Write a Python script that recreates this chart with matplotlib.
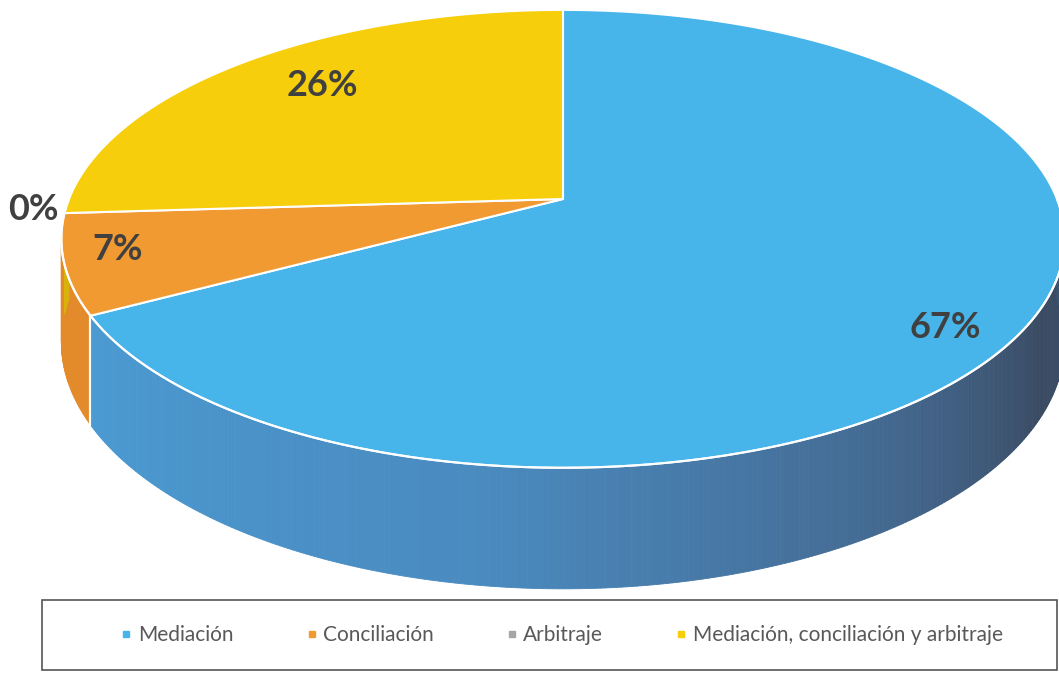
import numpy as np
import matplotlib
matplotlib.use("Agg")
import matplotlib.pyplot as plt
from matplotlib.patches import Polygon, Rectangle
from matplotlib.lines import Line2D

# data
labels = ["Mediación", "Conciliación", "Arbitraje", "Mediación, conciliación y arbitraje"]
values = [67, 7, 0, 26]
top_colors = ["#47b4ea", "#f29a32", "#a5a5a5", "#f6ce0b"]
side_colors = ["#4a9fd6", "#e38a2a", "#8f8f8f", "#d9b20a"]

W, H = 1059, 673
fig = plt.figure(figsize=(W / 100, H / 100), dpi=100)
ax = fig.add_axes([0, 0, 1, 1])
ax.set_xlim(0, W)
ax.set_ylim(H, 0)
ax.axis("off")

# simple perspective projection of a unit disk (pixel space)
CX, CY = 563, 199
A, B, P = 494, 222, 0.174
DEPTH = 100


def proj(theta_deg, down=0.0):
    t = np.radians(theta_deg)
    X, Z = np.cos(t), -np.sin(t)
    w = 1 - P * Z
    return CX + A * X / w, CY + (B * Z + down) / w


# slice angles: Excel style, start at 12 o'clock and go clockwise
fracs = np.array(values, dtype=float) / sum(values)
bounds = 90 - 360 * np.concatenate([[0], np.cumsum(fracs)])

blue_ramp = [(0.0, "#4aa3dc"), (0.45, "#4a8bc0"), (0.68, "#446a92"),
             (0.85, "#3a4a62"), (1.0, "#3d5570")]


def ramp(f):
    for (f0, c0), (f1, c1) in zip(blue_ramp[:-1], blue_ramp[1:]):
        if f <= f1:
            c0 = np.array(matplotlib.colors.to_rgb(c0))
            c1 = np.array(matplotlib.colors.to_rgb(c1))
            return tuple(c0 + (c1 - c0) * (f - f0) / (f1 - f0))
    return blue_ramp[-1][1]


# side walls (visible near half: math angles -180..0)
for i in range(len(values)):
    t_hi, t_lo = bounds[i], bounds[i + 1]
    if t_hi - t_lo <= 0:
        continue
    for shift in (-360, 0, 360):
        a0 = max(t_lo + shift, -180)
        a1 = min(t_hi + shift, 0)
        if a1 <= a0:
            continue
        ts = np.linspace(a0, a1, max(int((a1 - a0) * 2), 2))
        for k in range(len(ts) - 1):
            x0, y0 = proj(ts[k])
            x1, y1 = proj(ts[k + 1])
            _, b0 = proj(ts[k], DEPTH)
            _, b1 = proj(ts[k + 1], DEPTH)
            f = (ts[k] + 180) / 180.0
            col = ramp(f) if i == 0 else side_colors[i]
            ax.add_patch(Polygon([(x0, y0), (x1, y1), (x1, b1), (x0, b0)],
                                 closed=True, facecolor=col, edgecolor=col, lw=0.6))
        # white edge where two slices meet on the side
        for a in (a0, a1):
            if -170 < a < -10:
                xe, ye = proj(a)
                _, be = proj(a, DEPTH)
                ax.plot([xe, xe], [ye, be], color="white", lw=1.5)

# top surface
for i in range(len(values)):
    t_hi, t_lo = bounds[i], bounds[i + 1]
    if t_hi - t_lo <= 0:
        continue
    ts = np.linspace(t_hi, t_lo, 200)
    pts = [(CX, CY)] + [proj(t) for t in ts]
    ax.add_patch(Polygon(pts, closed=True, facecolor=top_colors[i],
                         edgecolor="white", lw=1.5, joinstyle="miter"))

# white rim line between top and side
ts = np.linspace(-180, 0, 300)
rim = np.array([proj(t) for t in ts])
ax.plot(rim[:, 0], rim[:, 1], color="white", lw=1.5)

# percentage labels
label_pos = [(945, 327), (118, 250), (33, 210), (322, 85)]
for v, (lx, ly) in zip(values, label_pos):
    ax.text(lx, ly, f"{v}%", ha="center", va="center", fontsize=26,
            fontweight="bold", color="#404040", family="Lato")

# legend
fig.patches.append(Rectangle((42 / W, 1 - 670 / H), 1015 / W, 70 / H,
                             transform=fig.transFigure, facecolor="none",
                             edgecolor="#555555", lw=1.2))
handles = [Line2D([], [], marker="s", ls="none", markersize=5,
                  markerfacecolor=c, markeredgecolor=c) for c in top_colors]
leg = ax.legend(handles, labels, loc="center", ncol=4, frameon=False,
                bbox_to_anchor=(562 / W, 1 - 635 / H), bbox_transform=fig.transFigure,
                handlelength=0.5, handletextpad=0.3, columnspacing=3.5,
                prop={"family": "Lato", "size": 15})
for t in leg.get_texts():
    t.set_color("#595959")

fig.savefig("out.png", dpi=100)
